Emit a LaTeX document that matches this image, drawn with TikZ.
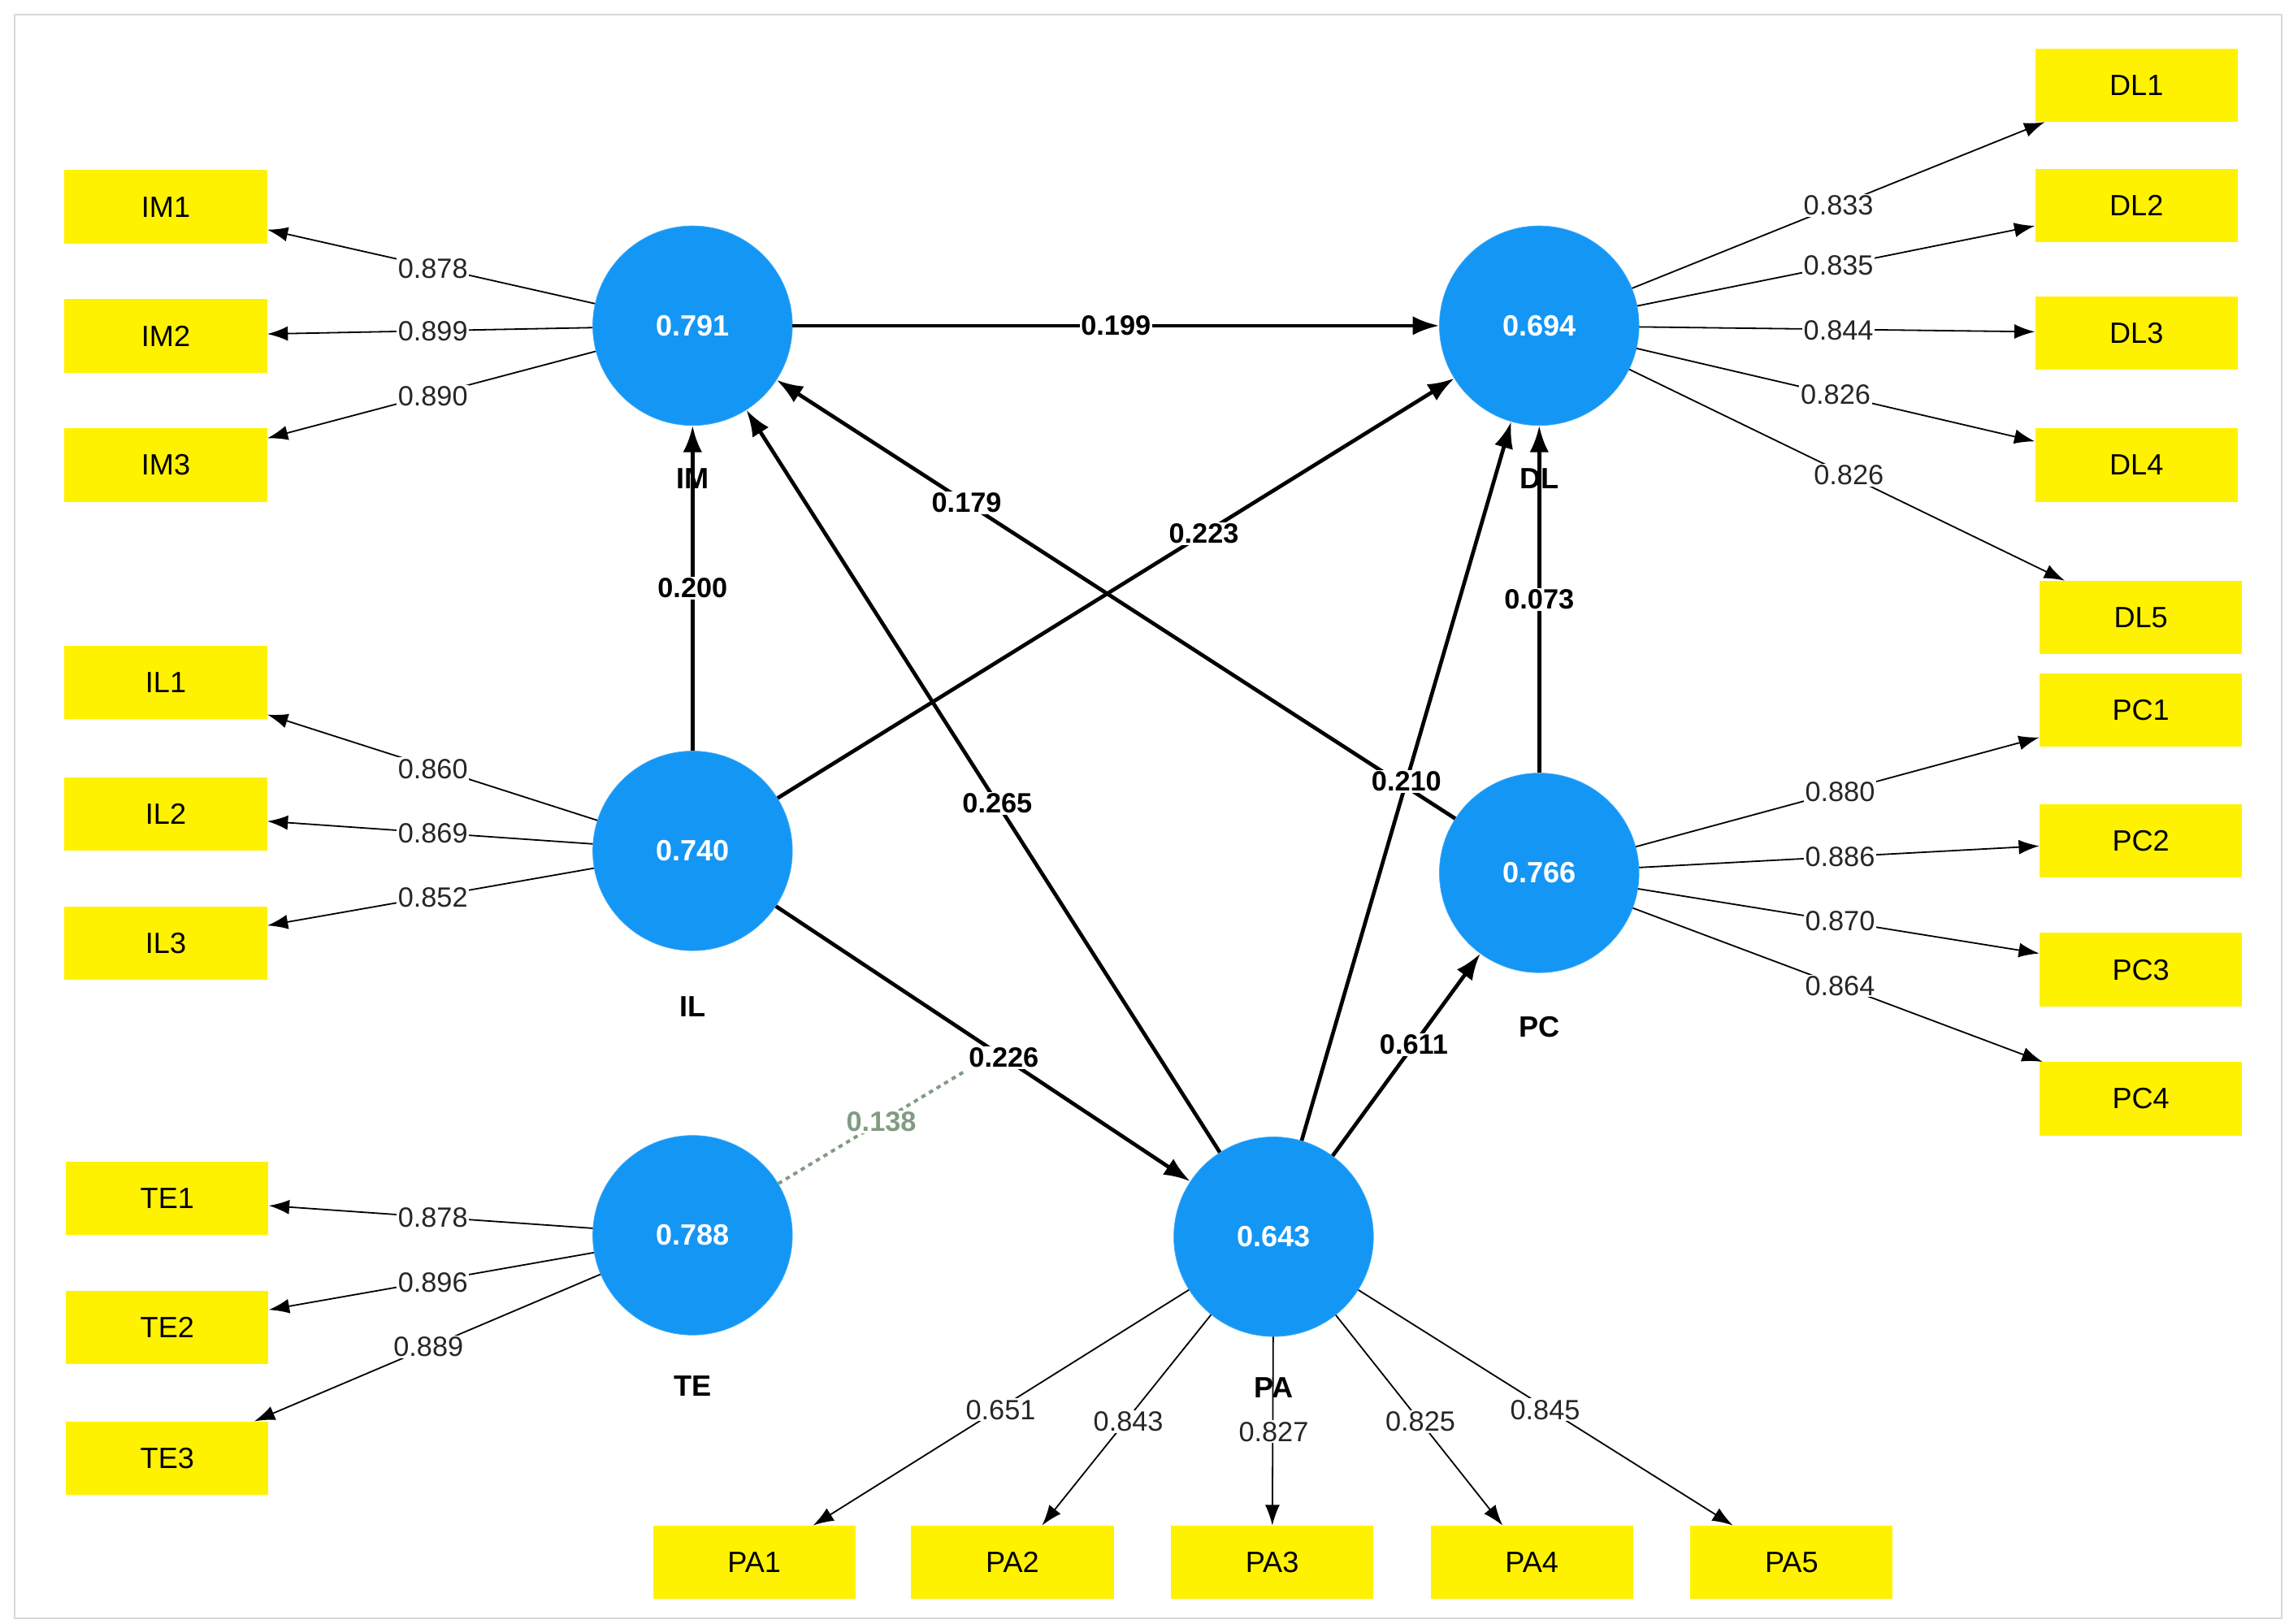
\documentclass[tikz,border=0pt]{standalone}
\usepackage{fontspec}
\setmainfont{Liberation Sans}
\usetikzlibrary{arrows.meta}
\definecolor{lv}{RGB}{20,150,245}
\definecolor{mod}{RGB}{130,155,130}
\begin{document}
\begin{tikzpicture}[x=1pt,y=-1pt,
 box/.style={draw=none,fill=yellow,minimum width=138pt,minimum height=50pt,font=\fontsize{20}{22}\selectfont},
 lv/.style={circle,fill=lv,draw=lv!80!white,minimum size=136pt,inner sep=0pt,text=white,font=\bfseries\fontsize{20}{22}\selectfont},
 nm/.style={font=\bfseries\fontsize{20}{22}\selectfont},
 outer/.style={-{Latex[length=14pt,width=10pt]},line width=1pt},
 inner/.style={-{Latex[length=18pt,width=13pt]},line width=2.6pt},
 ol/.style={fill=white,inner sep=1pt,font=\fontsize{19}{21}\selectfont,text=black!85},
 il/.style={fill=white,inner sep=1pt,font=\bfseries\fontsize{19}{21}\selectfont}]
\useasboundingbox (0,0) rectangle (1560,1107);
\draw[black!15,line width=1pt] (10,10) rectangle (1555,1103);
% latent variables
\node[lv] (IM) at (472,222) {0.791};
\node[lv] (DL) at (1049,222) {0.694};
\node[lv] (IL) at (472,580) {0.740};
\node[lv] (PC) at (1049,595) {0.766};
\node[lv] (TE) at (472,842) {0.788};
\node[lv] (PA) at (868,843) {0.643};
\node[nm] at (472,326) {IM};
\node[nm] at (1049,326) {DL};
\node[nm] at (472,686) {IL};
\node[nm] at (1049,700) {PC};
\node[nm] at (472,945) {TE};
\node[nm] at (868,946) {PA};
% indicators
\foreach \n/\x/\y in {IM1/113/141,IM2/113/229,IM3/113/317,IL1/113/465,IL2/113/555,IL3/113/643,TE1/114/817,TE2/114/905,TE3/114/994,DL1/1456/58,DL2/1456/140,DL3/1456/227,DL4/1456/317,DL5/1459/421,PC1/1459/484,PC2/1459/573,PC3/1459/661,PC4/1459/749,PA1/514/1065,PA2/690/1065,PA3/867/1065,PA4/1044/1065,PA5/1221/1065}
  \node[box] (\n) at (\x,\y) {\n};
% outer loadings
\foreach \a/\b in {IM/IM1,IM/IM2,IM/IM3,IL/IL1,IL/IL2,IL/IL3,TE/TE1,TE/TE2,TE/TE3,DL/DL1,DL/DL2,DL/DL3,DL/DL4,DL/DL5,PC/PC1,PC/PC2,PC/PC3,PC/PC4,PA/PA1,PA/PA2,PA/PA3,PA/PA4,PA/PA5}
  \draw[outer] (\a) -- (\b);
\foreach \t/\x/\y in {0.878/295/183,0.899/295/226,0.890/295/270,0.860/295/524,0.869/295/568,0.852/295/612,0.878/295/830,0.896/295/874,0.889/292/918,0.833/1253/140,0.835/1253/181,0.844/1253/225,0.826/1251/269,0.826/1260/324,0.880/1254/540,0.886/1254/584,0.870/1254/628,0.864/1254/672,0.651/682/961,0.843/769/969,0.827/868/976,0.825/968/969,0.845/1053/961}
  \node[ol] at (\x,\y) {\t};
% inner paths
\draw[inner] (IM) -- node[il]{0.199} (DL);
\draw[inner] (IL) -- node[il]{0.200} (IM);
\draw[inner] (IL) -- node[il,pos=0.63]{0.223} (DL);
\draw[inner] (PC) -- node[il,pos=0.72]{0.179} (IM);
\draw[inner] (PA) -- node[il,pos=0.5]{0.210} (DL);
\draw[inner] (PA) -- node[il,pos=0.47]{0.265} (IM);
\draw[inner] (PC) -- node[il]{0.073} (DL);
\draw[inner] (IL) -- node[il,pos=0.55](m){0.226} (PA);
\draw[inner] (PA) -- node[il,pos=0.55]{0.611} (PC);
\draw[mod,dashed,line width=2.2pt] (TE) -- node[fill=white,inner sep=1pt,pos=0.55,text=mod,font=\bfseries\fontsize{19}{21}\selectfont]{0.138} (m.south west);
\end{tikzpicture}
\end{document}
